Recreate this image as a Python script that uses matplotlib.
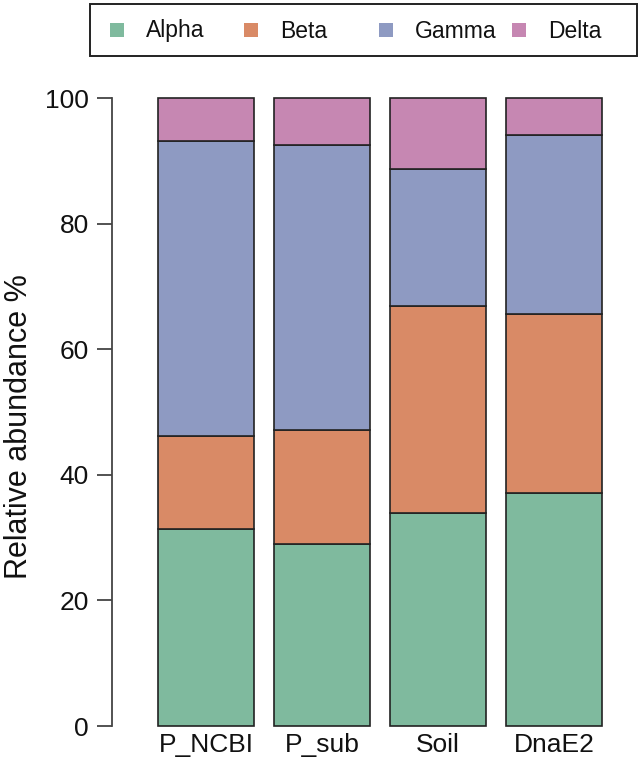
import matplotlib
matplotlib.use("Agg")
import matplotlib.pyplot as plt
from matplotlib.patches import Rectangle
import numpy as np

plt.rcParams['font.family'] = ['Liberation Sans', 'DejaVu Sans']

categories = ["P_NCBI", "P_sub", "Soil", "DnaE2"]
series_names = ["Alpha", "Beta", "Gamma", "Delta"]
alpha = [31.3, 29.0, 33.9, 37.1]
beta = [14.9, 18.1, 33.0, 28.5]
gamma = [47.0, 45.4, 21.8, 28.5]
delta = [6.8, 7.5, 11.3, 5.9]
colors = ["#7FBA9E", "#D98A66", "#8E9AC2", "#C687B2"]
yticks = [0, 20, 40, 60, 80, 100]

W, H = 641, 762
fig = plt.figure(figsize=(W / 100, H / 100), dpi=100)
fig.patch.set_facecolor("white")

ax = fig.add_axes([112 / W, (H - 726) / H, (620 - 112) / W, (726 - 98) / H])
x = np.arange(len(categories))
bottom = np.zeros(len(categories))
for vals, col in zip([alpha, beta, gamma, delta], colors):
    ax.bar(x, vals, width=0.8276, bottom=bottom, color=col, edgecolor="#222222",
           linewidth=1.2, clip_on=False, zorder=2)
    bottom += np.array(vals)

ax.set_xlim(-0.810, 3.569)
ax.set_ylim(0, 100)
for s in ["top", "right", "bottom"]:
    ax.spines[s].set_visible(False)
ax.spines["left"].set_bounds(0, 100)
ax.spines["left"].set_color("#444444")
ax.spines["left"].set_linewidth(1.3)
ax.set_yticks(yticks)
ax.set_yticklabels([str(t) for t in yticks])
ax.tick_params(axis="y", length=10.5, width=1.3, color="#444444", pad=6,
               labelsize=19, labelcolor="#111111")
ax.set_xticks(x)
ax.set_xticklabels(categories)
ax.tick_params(axis="x", length=0, pad=5, labelsize=19, labelcolor="#111111")
ax.set_facecolor("none")

fig.text(19 / W, 1 - 427 / H, "Relative abundance %", rotation=90,
         ha="center", va="center", fontsize=22, color="#111111")

# legend box
frame = Rectangle((90 / W, 1 - 56 / H), (637 - 90) / W, (56 - 4) / H,
                  transform=fig.transFigure, facecolor="white",
                  edgecolor="#222222", linewidth=1.4)
fig.patches.append(frame)
sq_x = [110, 244, 379, 512]
for name, col, sx in zip(series_names, colors, sq_x):
    fig.patches.append(Rectangle((sx / W, 1 - 37 / H), 14 / W, 14 / H,
                                 transform=fig.transFigure, facecolor=col,
                                 edgecolor="none"))
    fig.text((sx + 36) / W, 1 - 31 / H, name, ha="left", va="center",
             fontsize=16.5, color="#111111")

fig.savefig("out.png", dpi=100)
